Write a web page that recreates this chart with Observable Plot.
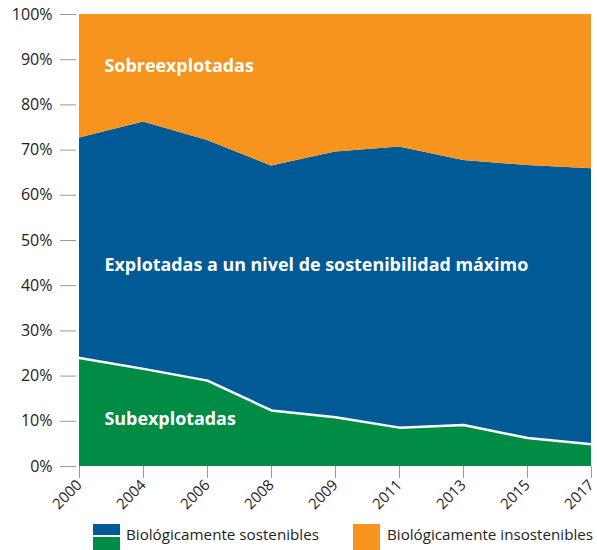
<!DOCTYPE html>
<html>
<head>
<meta charset="utf-8">
<script src="https://cdn.jsdelivr.net/npm/d3@7"></script>
<script src="https://cdn.jsdelivr.net/npm/@observablehq/plot@0.6"></script>
<style>
  body { margin: 0; background: #fff; font-family: "Open Sans", sans-serif; }
  #chart { width: 597px; }
  .legend { position: relative; width: 597px; height: 32px; font-size: 15.2px; color: #222; }
  .sw { position: absolute; width: 27px; height: 26px; }
  .lab { position: absolute; top: 6px; white-space: nowrap; }
</style>
</head>
<body>
<div id="chart"></div>
<div class="legend">
  <div class="sw" style="left:93px; top:6px; background: linear-gradient(#005a96 0 11px, #fff 11px 13px, #008c45 13px);"></div>
  <div class="lab" style="left:126px;">Biológicamente sostenibles</div>
  <div class="sw" style="left:353px; top:6px; background:#f7941d;"></div>
  <div class="lab" style="left:387px;">Biológicamente insostenibles</div>
</div>
<script>
const years = ["2000", "2004", "2006", "2008", "2009", "2011", "2013", "2015", "2017"];
const subexplotadas = [24.0, 21.6, 19.0, 12.4, 10.9, 8.6, 9.2, 6.3, 4.9];
const maximo = [48.7, 54.6, 53.1, 54.1, 58.7, 62.1, 58.5, 60.3, 61.0];
const sobreexplotadas = [27.3, 23.8, 27.9, 33.5, 30.4, 29.3, 32.3, 33.4, 34.1];
const yTicks = [0, 10, 20, 30, 40, 50, 60, 70, 80, 90, 100];
const seriesNames = ["Subexplotadas", "Explotadas a un nivel de sostenibilidad máximo", "Sobreexplotadas"];
const seriesColors = ["#008c45", "#005a96", "#f7941d"];
const labelY = [10.5, 44.5, 88.5];

const rows = [];
years.forEach((y, i) => {
  rows.push({year: y, series: seriesNames[0], value: subexplotadas[i]});
  rows.push({year: y, series: seriesNames[1], value: maximo[i]});
  rows.push({year: y, series: seriesNames[2], value: sobreexplotadas[i]});
});
const subLine = years.map((y, i) => ({year: y, value: subexplotadas[i]}));
const labels = seriesNames.map((s, i) => ({year: years[0], series: s, y: labelY[i]}));

const chart = Plot.plot({
  width: 597,
  height: 518,
  marginTop: 14,
  marginBottom: 52,
  marginLeft: 76,
  marginRight: 3,
  style: {fontFamily: "'Open Sans', sans-serif", fontSize: "15px", color: "#222", background: "#fff"},
  x: {type: "point", domain: years, padding: 0},
  y: {domain: [0, 100]},
  color: {domain: seriesNames, range: seriesColors},
  marks: [
    Plot.areaY(rows, {x: "year", y: "value", fill: "series", order: seriesNames, curve: "linear"}),
    Plot.lineY(subLine, {x: "year", y: "value", stroke: "#fff", strokeWidth: 2.5}),
    Plot.text(labels, {x: "year", y: "y", text: "series", fill: "#fff", textAnchor: "start", dx: 25, fontWeight: "bold", fontSize: 17.9}),
    Plot.axisY({ticks: yTicks, tickFormat: d => d + "%", tickSize: 16, tickPadding: 8, stroke: "#9a9a9a", fill: "#222", fontSize: 16, label: null}),
    Plot.axisX({tickRotate: -45, tickSize: 12, tickPadding: 4, stroke: "#9a9a9a", fill: "#222", fontSize: 15, label: null})
  ]
});
document.getElementById("chart").appendChild(chart);
</script>
</body>
</html>
